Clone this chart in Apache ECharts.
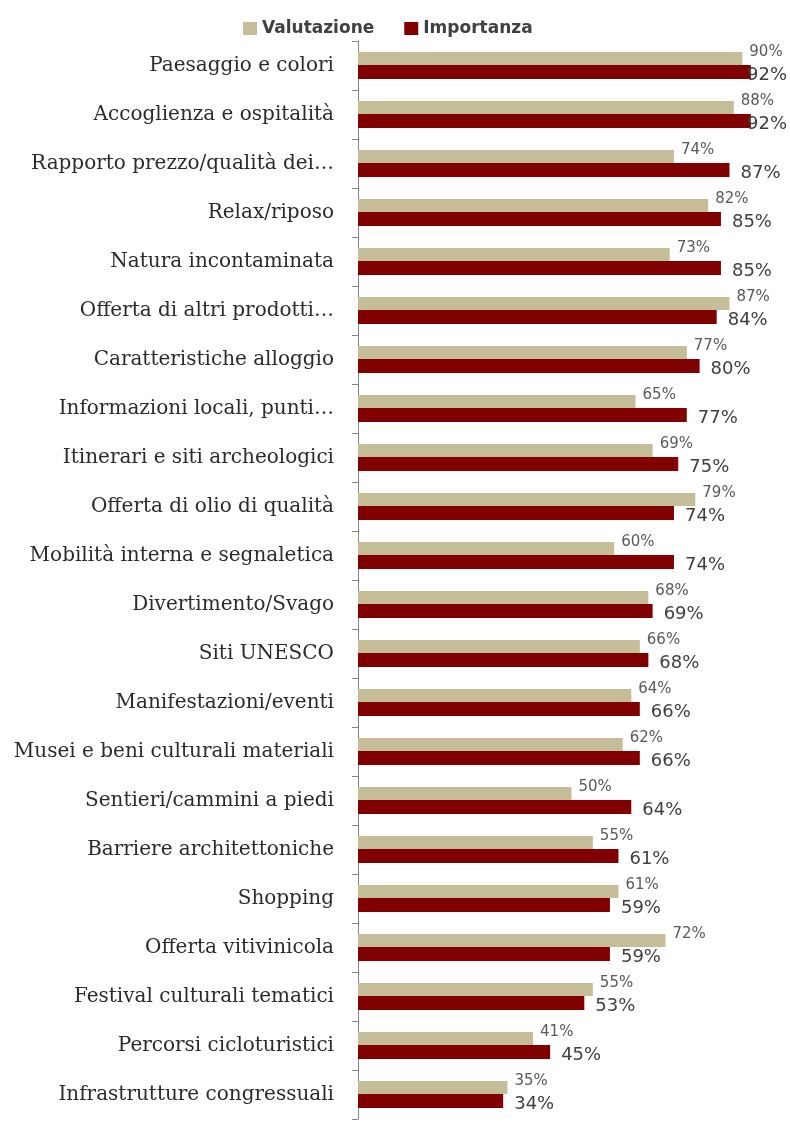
<!DOCTYPE html>
<html>
<head>
<meta charset="utf-8">
<script src="https://cdn.jsdelivr.net/npm/echarts@6/dist/echarts.min.js"></script>
<style>
  html, body { margin: 0; padding: 0; background: #ffffff; }
  #chart { width: 790px; height: 1124px; }
</style>
</head>
<body>
<div id="chart"></div>
<script>
// Aspetti dell'offerta turistica: valutazione vs importanza (%)
var categories = [
  'Paesaggio e colori',
  'Accoglienza e ospitalità',
  'Rapporto prezzo/qualità dei…',
  'Relax/riposo',
  'Natura incontaminata',
  'Offerta di altri prodotti…',
  'Caratteristiche alloggio',
  'Informazioni locali, punti…',
  'Itinerari e siti archeologici',
  'Offerta di olio di qualità',
  'Mobilità interna e segnaletica',
  'Divertimento/Svago',
  'Siti UNESCO',
  'Manifestazioni/eventi',
  'Musei e beni culturali materiali',
  'Sentieri/cammini a piedi',
  'Barriere architettoniche',
  'Shopping',
  'Offerta vitivinicola',
  'Festival culturali tematici',
  'Percorsi cicloturistici',
  'Infrastrutture congressuali'
];
var valutazione = [90, 88, 74, 82, 73, 87, 77, 65, 69, 79, 60, 68, 66, 64, 62, 50, 55, 61, 72, 55, 41, 35];
var importanza  = [92, 92, 87, 85, 85, 84, 80, 77, 75, 74, 74, 69, 68, 66, 66, 64, 61, 59, 59, 53, 45, 34];
var seriesNames = ['Valutazione', 'Importanza'];

var W = 790, H = 1124;
var GRID = { left: 358, right: 5, top: 41, bottom: 5 };
var X_MAX = 100;
var RIGHT_LIMIT = 787;

var chart = echarts.init(document.getElementById('chart'), null, { renderer: 'canvas' });

// text width for label fitting
var measureCtx = document.createElement('canvas').getContext('2d');
function textWidth(str, font) {
  measureCtx.font = font;
  return measureCtx.measureText(str).width;
}

// Build bar items; a label that would run past the right edge is pulled back inside
function barItems(values, baseOffset, font) {
  var plotW = W - GRID.left - GRID.right;
  return values.map(function (v) {
    var end = GRID.left + v / X_MAX * plotW;
    var w = textWidth(v + '%', font);
    var dx = baseOffset[0];
    if (end + dx + w > RIGHT_LIMIT) {
      dx = RIGHT_LIMIT - w - end;
    }
    return { value: v, label: { offset: [dx, baseOffset[1]] } };
  });
}

var valFont = { family: 'DejaVu Sans', size: 15 };
var impFont = { family: 'DejaVu Sans', size: 18 };
var valOffset = [7, -6];
var impOffset = [11, 3];

chart.setOption({
  animation: false,
  backgroundColor: '#ffffff',
  legend: {
    data: seriesNames,
    left: 238,
    top: 15,
    icon: 'rect',
    itemWidth: 14,
    itemHeight: 13,
    itemGap: 30,
    textStyle: {
      fontFamily: 'DejaVu Sans',
      fontWeight: 'bold',
      fontSize: 17,
      color: '#404040'
    }
  },
  grid: {
    left: GRID.left,
    right: GRID.right,
    top: GRID.top,
    bottom: GRID.bottom,
    containLabel: false
  },
  xAxis: {
    type: 'value',
    min: 0,
    max: X_MAX,
    show: false
  },
  yAxis: {
    type: 'category',
    data: categories,
    inverse: true,
    boundaryGap: true,
    axisLine: { show: true, lineStyle: { color: '#868686', width: 1 } },
    axisTick: { show: true, length: 6, lineStyle: { color: '#868686' } },
    axisLabel: {
      margin: 24,
      fontFamily: 'DejaVu Serif',
      fontSize: 20,
      color: '#2b2b2b'
    }
  },
  series: [
    {
      name: seriesNames[0],
      type: 'bar',
      data: barItems(valutazione, valOffset, valFont.size + 'px "' + valFont.family + '"'),
      barWidth: 13,
      barGap: '0%',
      itemStyle: { color: '#C4BD97' },
      label: {
        show: true,
        position: 'right',
        distance: 0,
        formatter: '{c}%',
        fontFamily: valFont.family,
        fontSize: valFont.size,
        color: '#595959'
      }
    },
    {
      name: seriesNames[1],
      type: 'bar',
      data: barItems(importanza, impOffset, impFont.size + 'px "' + impFont.family + '"'),
      barWidth: 14,
      barGap: '0%',
      itemStyle: { color: '#800000' },
      label: {
        show: true,
        position: 'right',
        distance: 0,
        formatter: '{c}%',
        fontFamily: impFont.family,
        fontSize: impFont.size,
        color: '#404040'
      }
    }
  ]
});
</script>
</body>
</html>
